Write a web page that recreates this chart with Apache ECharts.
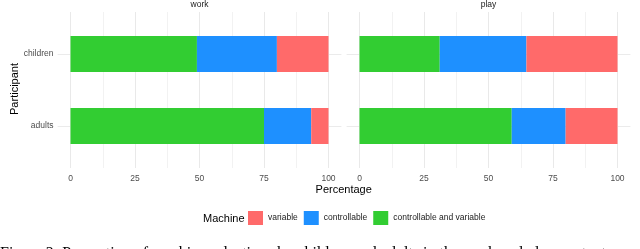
<!DOCTYPE html>
<html>
<head>
<meta charset="utf-8">
<script src="https://cdn.jsdelivr.net/npm/echarts@6/dist/echarts.min.js"></script>
<style>
html,body{margin:0;padding:0;background:#fff;}
#c{width:640px;height:249px;}
</style>
</head>
<body>
<div id="c"></div>
<script>
// ---- data ----
const participants = ['children', 'adults'];
const panels = ['work', 'play'];
const machineLegend = ['variable', 'controllable', 'controllable and variable'];
const xTicks = [0, 25, 50, 75, 100];

const workControllableAndVariable = [49, 75];
const workControllable = [31, 18.3];
const workVariable = [20, 6.7];

const playControllableAndVariable = [31.1, 59];
const playControllable = [33.6, 20.9];
const playVariable = [35.3, 20.1];

// ---- layout / style ----
const FONT = 'Liberation Sans';
const colors = {
  'variable': '#FF6A6A',
  'controllable': '#1E90FF',
  'controllable and variable': '#32CD32'
};
const innerLeft = [70.5, 359.5];
const innerWidth = 258;
const outerLeft = [57.6, 346.6];
const outerWidth = 283.8;

const grids = [];
const xAxes = [];
const yAxes = [];
const series = [];

const panelData = [
  [workControllableAndVariable, workControllable, workVariable],
  [playControllableAndVariable, playControllable, playVariable]
];
const stackNames = ['controllable and variable', 'controllable', 'variable'];

for (let p = 0; p < 2; p++) {
  // grid for horizontal grid lines (outer extent)
  const gH = grids.length;
  grids.push({left: outerLeft[p], width: outerWidth, top: 18, height: 144, containLabel: false});
  xAxes.push({gridIndex: gH, type: 'value', min: 0, max: 100, show: false});
  yAxes.push({gridIndex: gH, type: 'value', min: 0, max: 4, interval: 1,
    axisLine: {show: false}, axisTick: {show: false}, axisLabel: {show: false},
    splitLine: {show: true, showMinLine: true, showMaxLine: true,
      lineStyle: {color: ['rgba(0,0,0,0)', '#ebebeb'], width: 1}}});

  // grid for vertical grid lines + x labels
  const gV = grids.length;
  grids.push({left: innerLeft[p], width: innerWidth, top: 12, height: 156});
  xAxes.push({gridIndex: gV, type: 'value', min: xTicks[0], max: xTicks[xTicks.length - 1],
    interval: xTicks[1] - xTicks[0],
    axisLine: {show: false}, axisTick: {show: false},
    axisLabel: {show: true, color: '#4d4d4d', fontFamily: FONT, fontSize: 8.5, margin: 6},
    splitLine: {show: true, lineStyle: {color: '#e9e9e9', width: 1}},
    minorTick: {show: false, splitNumber: 2},
    minorSplitLine: {show: true, lineStyle: {color: '#f2f2f2', width: 1}}});
  yAxes.push({gridIndex: gV, type: 'value', show: false, min: 0, max: 1});

  // grid for bars
  const gB = grids.length;
  grids.push({left: innerLeft[p], width: innerWidth, top: 18, height: 144});
  xAxes.push({gridIndex: gB, type: 'value', min: 0, max: 100, show: false});
  yAxes.push({gridIndex: gB, type: 'category', data: participants, inverse: true,
    axisLine: {show: false}, axisTick: {show: false}, splitLine: {show: false},
    axisLabel: {show: p === 0, color: '#4d4d4d', fontFamily: FONT, fontSize: 8.5, margin: 17}});

  for (let s = 0; s < 3; s++) {
    series.push({
      name: stackNames[s],
      type: 'bar',
      stack: panels[p],
      xAxisIndex: xAxes.length - 1,
      yAxisIndex: yAxes.length - 1,
      barWidth: 36,
      itemStyle: {color: colors[stackNames[s]]},
      emphasis: {disabled: true},
      data: panelData[p][s]
    });
  }
}

const chart = echarts.init(document.getElementById('c'), null, {renderer: 'canvas'});
chart.setOption({
  animation: false,
  backgroundColor: '#ffffff',
  grid: grids,
  xAxis: xAxes,
  yAxis: yAxes,
  series: series,
  legend: {
    data: machineLegend,
    left: 248, top: 211,
    padding: 0,
    orient: 'horizontal',
    icon: 'rect',
    itemWidth: 15, itemHeight: 14, itemGap: 6,
    selectedMode: false,
    textStyle: {fontFamily: FONT, fontSize: 8.5, color: '#1a1a1a'}
  },
  graphic: [
    {type: 'text', x: innerLeft[0] + innerWidth / 2, y: 5,
      style: {text: panels[0], fontFamily: FONT, fontSize: 8.5, fill: '#1a1a1a', align: 'center', verticalAlign: 'middle'}},
    {type: 'text', x: innerLeft[1] + innerWidth / 2, y: 5,
      style: {text: panels[1], fontFamily: FONT, fontSize: 8.5, fill: '#1a1a1a', align: 'center', verticalAlign: 'middle'}},
    {type: 'text', x: 343.7, y: 190,
      style: {text: 'Percentage', fontFamily: FONT, fontSize: 11, fill: '#000', align: 'center', verticalAlign: 'middle'}},
    {type: 'text', x: 14.5, y: 89, rotation: Math.PI / 2,
      style: {text: 'Participant', fontFamily: FONT, fontSize: 11, fill: '#000', align: 'center', verticalAlign: 'middle'}},
    {type: 'text', x: 203, y: 218.5,
      style: {text: 'Machine', fontFamily: FONT, fontSize: 11, fill: '#000', align: 'left', verticalAlign: 'middle'}},
    {type: 'text', x: 0, y: 246,
      style: {text: 'Figure 2: Proportion of machine selections by children and adults in the work and play context.',
        fontFamily: 'Liberation Serif', fontSize: 16, fill: '#000', align: 'left', verticalAlign: 'top'}}
  ]
});
</script>
</body>
</html>
